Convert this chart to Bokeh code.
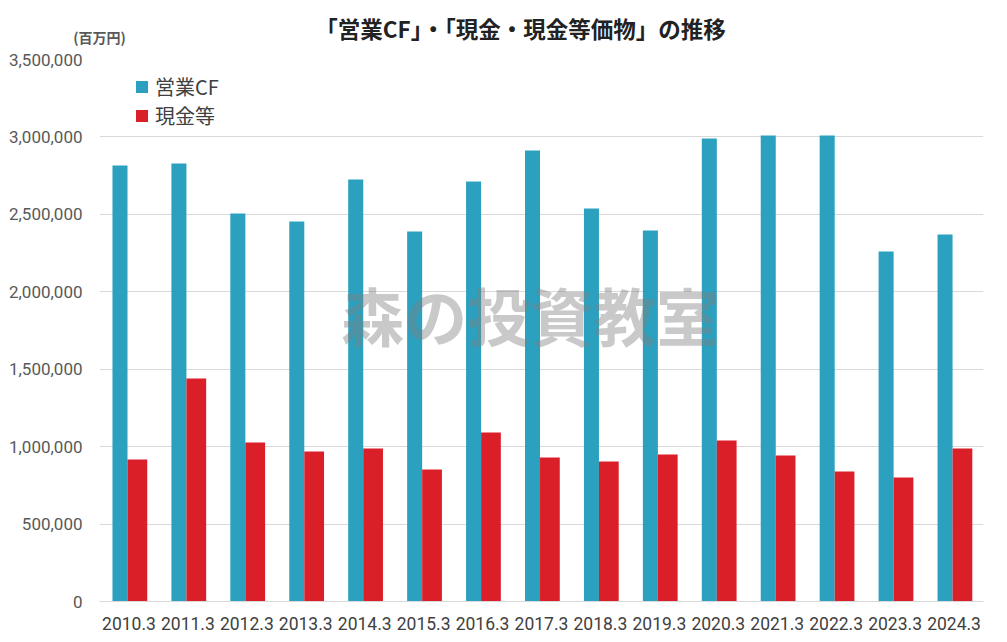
from bokeh.plotting import figure
from bokeh.models import (ColumnDataSource, FactorRange, FixedTicker, NumeralTickFormatter,
                          Label, Legend, LegendItem)
from bokeh.layouts import column
from bokeh.transform import dodge
from bokeh.core.properties import value
from bokeh.embed import file_html
from bokeh.resources import INLINE

years = ["2010.3", "2011.3", "2012.3", "2013.3", "2014.3", "2015.3", "2016.3", "2017.3",
         "2018.3", "2019.3", "2020.3", "2021.3", "2022.3", "2023.3", "2024.3"]
operating_cf = [2815000, 2828000, 2506000, 2454000, 2725000, 2389000, 2712000, 2912000,
                2538000, 2396000, 2990000, 3009000, 3009000, 2260000, 2370000]
cash = [917000, 1440000, 1027000, 969000, 988000, 852000, 1091000, 930000,
        904000, 949000, 1040000, 943000, 839000, 801000, 988000]
y_ticks = [0, 500000, 1000000, 1500000, 2000000, 2500000, 3000000, 3500000]

title_text = "「営業CF」・「現金・現金等価物」の推移"
unit_text = "(百万円)"
watermark = "森の投資教室"

BLUE = "#2ba1bf"
RED = "#da1f29"
FONT = "Noto Sans CJK JP"
NUMFONT = "Roboto"

W = 1007
HEAD_H = 49

# ---- header figure (title + unit) ----
h = figure(width=W, height=HEAD_H, x_range=(0, W), y_range=(0, HEAD_H),
           output_backend="svg", toolbar_location=None,
           x_axis_location=None, y_axis_location=None, min_border=0)
h.frame_align = False
h.outline_line_color = None
h.xgrid.grid_line_color = None
h.ygrid.grid_line_color = None
h.text(x=[520], y=[HEAD_H - 27], text=[title_text], text_font=value(FONT),
       text_font_style="bold", text_font_size="22.5px", text_color="#222222",
       text_align="center", text_baseline="middle")
h.text(x=[99], y=[HEAD_H - 36], text=[unit_text], text_font=value(FONT),
       text_font_style="bold", text_font_size="14px", text_color="#595959",
       text_align="center", text_baseline="middle")

# ---- main chart ----
src = ColumnDataSource(dict(year=years, cf=operating_cf, cash=cash))

p = figure(width=W, height=642 - HEAD_H, x_range=FactorRange(factors=years, range_padding=0),
           y_range=(0, 3500000), output_backend="svg", toolbar_location=None,
           min_border_left=99, min_border_right=24, min_border_top=10, min_border_bottom=41)
p.outline_line_color = None
p.background_fill_color = "white"
p.border_fill_color = "white"

r1 = p.vbar(x=dodge("year", -0.1525, range=p.x_range), top="cf", width=0.255, source=src,
            fill_color=BLUE, line_color=None)
r2 = p.vbar(x=dodge("year", 0.1425, range=p.x_range), top="cash", width=0.335, source=src,
            fill_color=RED, line_color=None)

p.xgrid.grid_line_color = None
p.ygrid.grid_line_color = "#d9d9d9"
p.ygrid.grid_line_width = 1
p.yaxis.ticker = FixedTicker(ticks=y_ticks)
p.yaxis.formatter = NumeralTickFormatter(format="0,0")
p.yaxis.axis_line_color = None
p.yaxis.major_tick_line_color = None
p.yaxis.minor_tick_line_color = None
p.yaxis.major_label_text_font = NUMFONT
p.yaxis.major_label_text_font_size = "17px"
p.yaxis.major_label_text_color = "#595959"
p.yaxis.major_label_standoff = 11

p.xaxis.axis_line_color = "#d9d9d9"
p.xaxis.axis_line_width = 1
p.xaxis.major_tick_line_color = None
p.xaxis.minor_tick_line_color = None
p.xaxis.major_label_text_font = NUMFONT
p.xaxis.major_label_text_font_size = "17.5px"
p.xaxis.major_label_text_color = "#404040"
p.xaxis.major_label_standoff = 9

legend = Legend(items=[LegendItem(label="営業CF", renderers=[r1]),
                       LegendItem(label="現金等", renderers=[r2])],
                location=(35, 471), orientation="vertical",
                glyph_width=15, glyph_height=15, label_height=20, spacing=0,
                label_standoff=6, padding=0, margin=0,
                border_line_color=None, background_fill_alpha=0,
                label_text_font=FONT, label_text_font_size="20px", label_text_color="#404040")
p.add_layout(legend)

p.add_layout(Label(x=7.31, y=1860000, text=watermark, text_font=FONT, text_font_style="bold",
                   text_font_size="63px", text_color="#7f7f7f", text_alpha=0.42,
                   text_align="center", text_baseline="middle"))

layout = column(h, p, spacing=0)
open("out.html", "w").write(file_html(layout, INLINE))
